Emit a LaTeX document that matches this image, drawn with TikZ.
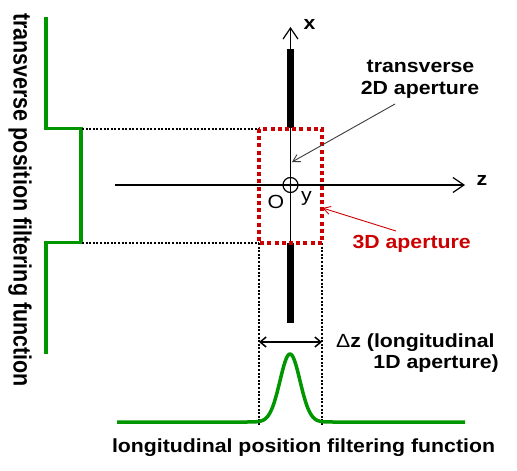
\documentclass[tikz,border=0pt]{standalone}
\usepackage{fontspec}
\newfontfamily\lab[FakeStretch=1.12]{Liberation Sans}
\newfontfamily\labv[FakeStretch=0.86]{Liberation Sans}
\usetikzlibrary{arrows.meta}
\definecolor{fgreen}{RGB}{0,150,0}
\definecolor{fred}{RGB}{204,0,0}
\definecolor{darkline}{RGB}{60,60,60}
\begin{document}
\begin{tikzpicture}[x=1pt,y=-1pt,
  lbl/.style={font=\lab\fontsize{19}{22}\selectfont\bfseries, inner sep=0pt},
  lblr/.style={font=\lab\fontsize{19}{22}\selectfont, inner sep=0pt},
  lblv/.style={font=\labv\fontsize{25}{28}\selectfont\bfseries, inner sep=0pt},
  axisline/.style={line width=1.2pt, -{Straight Barb[length=11pt,width=15pt]}},
  grn/.style={draw=fgreen, line width=3.5pt},
  dotl/.style={line width=2pt, dash pattern=on 2pt off 1.6pt},
  bar/.style={line width=7pt},
  redbox/.style={draw=fred, line width=4pt, dash pattern=on 4pt off 3.2pt},
  pointer/.style={line width=0.9pt, -{Straight Barb[length=7pt,width=8pt]}},
  dimarrow/.style={line width=1.5pt, {Straight Barb[length=6pt,width=10pt]}-{Straight Barb[length=6pt,width=10pt]}}]
\useasboundingbox (0,0) rectangle (517,471);
\fill[white] (0,0) rectangle (517,471);

% transverse step function
\draw[grn, line join=miter] (46,17) |- (81,128.5) -- (81,242.5) -| (46,354);

% dotted guides
\draw[dotl] (82,128.5) -- (259,128.5);
\draw[dotl] (82,242.5) -- (259,242.5);
\draw[dotl] (259,243) -- (259,425);
\draw[dotl] (322,243) -- (322,425);

% axes
\draw[axisline] (290.5,243) -- (290.5,27);
\draw[axisline] (115,185) -- (465,185);

% thick bars
\draw[bar] (290.5,49) -- (290.5,128);
\draw[bar] (290.5,243) -- (290.5,323);

% y axis symbol
\draw[line width=1.2pt] (290.5,185) circle (7.5);
\fill (290.5,185) circle (1.8);

% red 3D aperture box
\draw[redbox] (259,129) rectangle (322,243);

% gaussian
\draw[grn, line join=round] (117,422) -- plot[domain=240:340, samples=101] (\x, {422-68*exp(-((\x-290)^2)/200)}) -- (465,422);

% labels
\node[lbl, anchor=base] (xl) at (309.5,29) {x};
\node[lbl, anchor=base] (zl) at (482,185) {z};
\node[lblr, anchor=base] (ol) at (276,208) {O};
\node[lblr, anchor=base] (yl) at (306.5,201) {y};
\node[lbl, anchor=base] (tr1) at (420.5,72) {transverse};
\node[lbl, anchor=base] (tr2) at (420,94) {2D aperture};
\node[lbl, anchor=base, text=fred] (ap3) at (411.7,248) {3D aperture};
\node[lbl, anchor=base west] (dz1) at (336,347) {{\mdseries Δ}z (longitudinal};
\node[lbl, anchor=base east] (dz2) at (499,368) {1D aperture)};
\node[lbl, anchor=base] (lon) at (303.5,452) {longitudinal position filtering function};
\node[lblv, anchor=base, rotate=-90] (trn) at (13.5,200) {transverse position filtering function};

% pointers
\coordinate (ta) at (395,104);
\coordinate (tb) at (292,162);
\draw[pointer, darkline] (ta) -- (tb);
\coordinate (ra) at (396,231);
\coordinate (rb) at (322.5,208);
\draw[pointer, fred] (ra) -- (rb);

% delta z
\coordinate (dl) at (259,342);
\coordinate (dr) at (322,342);
\draw[dimarrow] (dl) -- (dr);
\end{tikzpicture}
\end{document}
